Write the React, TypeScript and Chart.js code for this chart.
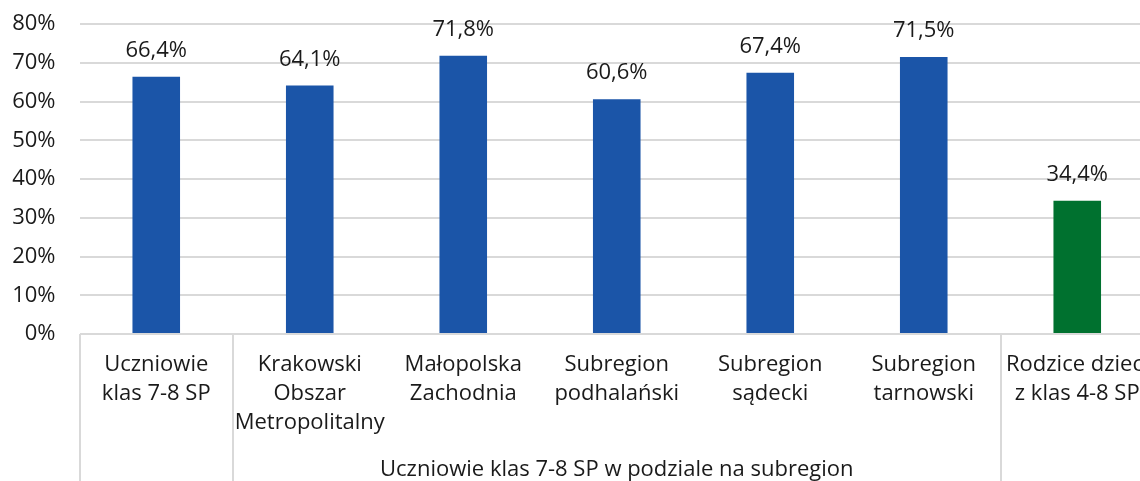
import React, { useEffect, useRef } from "react";
import { Chart, registerables } from "chart.js";

Chart.register(...registerables);

const categoryLines: string[][] = [
  ["Uczniowie", "klas 7-8 SP"],
  ["Krakowski", "Obszar", "Metropolitalny"],
  ["Małopolska", "Zachodnia"],
  ["Subregion", "podhalański"],
  ["Subregion", "sądecki"],
  ["Subregion", "tarnowski"],
  ["Rodzice dzieci", "z klas 4-8 SP"],
];
const values: number[] = [66.4, 64.1, 71.8, 60.6, 67.4, 71.5, 34.4];
const barColors: string[] = ["#1B55A8", "#1B55A8", "#1B55A8", "#1B55A8", "#1B55A8", "#1B55A8", "#00712F"];
const groupLabel = "Uczniowie klas 7-8 SP w podziale na subregion";
const groupStart = 1;
const groupEnd = 5;
const yTicks: number[] = [0, 10, 20, 30, 40, 50, 60, 70, 80];

const FONT = "'Open Sans', sans-serif";
const FONT_SIZE = 22;
const TEXT = "#1a1a1a";
const GRID = "#d9d9d9";

const labelsPlugin = {
  id: "customLabels",
  afterDraw(chart: any) {
    const ctx = chart.ctx;
    const x = chart.scales.x;
    const area = chart.chartArea;
    const meta = chart.getDatasetMeta(0);
    const half = (x.getPixelForValue(1) - x.getPixelForValue(0)) / 2;
    ctx.save();
    ctx.font = `${FONT_SIZE}px ${FONT}`;
    ctx.fillStyle = TEXT;
    ctx.textAlign = "center";
    ctx.textBaseline = "middle";
    // data labels
    meta.data.forEach((bar: any, i: number) => {
      ctx.fillText(values[i].toFixed(1).replace(".", ",") + "%", bar.x, bar.y - 26);
    });
    // category labels
    categoryLines.forEach((lines, i) => {
      const cx = x.getPixelForValue(i);
      lines.forEach((ln, j) => {
        ctx.fillText(ln, cx, area.bottom + 31 + j * 29);
      });
    });
    // group label
    const gx = (x.getPixelForValue(groupStart) - half + x.getPixelForValue(groupEnd) + half) / 2;
    ctx.fillText(groupLabel, gx, area.bottom + 136);
    // separators
    ctx.strokeStyle = GRID;
    ctx.lineWidth = 2;
    const seps = [-0.5, groupStart - 0.5, groupEnd + 0.5];
    seps.forEach((s) => {
      const px = Math.round(x.getPixelForValue(0) + s * half * 2);
      ctx.beginPath();
      ctx.moveTo(px, area.bottom);
      ctx.lineTo(px, chart.height);
      ctx.stroke();
    });
    ctx.restore();
  },
};

export default function App() {
  const ref = useRef<HTMLCanvasElement | null>(null);
  useEffect(() => {
    if (!ref.current) return;
    const chart = new Chart(ref.current, {
      type: "bar",
      data: {
        labels: categoryLines.map((l) => l.join(" ")),
        datasets: [
          {
            data: values,
            backgroundColor: barColors,
            barPercentage: 0.62,
            categoryPercentage: 0.5,
          },
        ],
      },
      options: {
        responsive: false,
        animation: false,
        layout: { padding: { top: 24, right: 6, left: 0, bottom: 0 } },
        plugins: { legend: { display: false }, tooltip: { enabled: false } },
        scales: {
          x: {
            grid: { display: false },
            border: { display: false },
            ticks: { display: false },
            afterFit(scale: any) {
              scale.height = 147;
              scale.paddingLeft = 0;
              scale.paddingRight = 0;
            },
          },
          y: {
            min: 0,
            max: 80,
            afterBuildTicks(scale: any) {
              scale.ticks = yTicks.map((v) => ({ value: v }));
            },
            afterFit(scale: any) {
              scale.width = 79.5;
              scale.paddingTop = 0;
              scale.paddingBottom = 0;
            },
            grid: { color: GRID, lineWidth: 2, drawTicks: false },
            border: { display: false },
            ticks: {
              padding: 24,
              color: TEXT,
              font: { family: FONT, size: FONT_SIZE },
              callback: (v: any) => v + "%",
            },
          },
        },
      },
      plugins: [labelsPlugin],
    });
    return () => chart.destroy();
  }, []);
  return (
    <div style={{ position: "fixed", left: 0, top: 0, width: 1140, height: 481, overflow: "hidden", background: "#fff" }}>
      <canvas ref={ref} width={1160} height={481} style={{ width: 1160, height: 481, display: "block" }} />
    </div>
  );
}
